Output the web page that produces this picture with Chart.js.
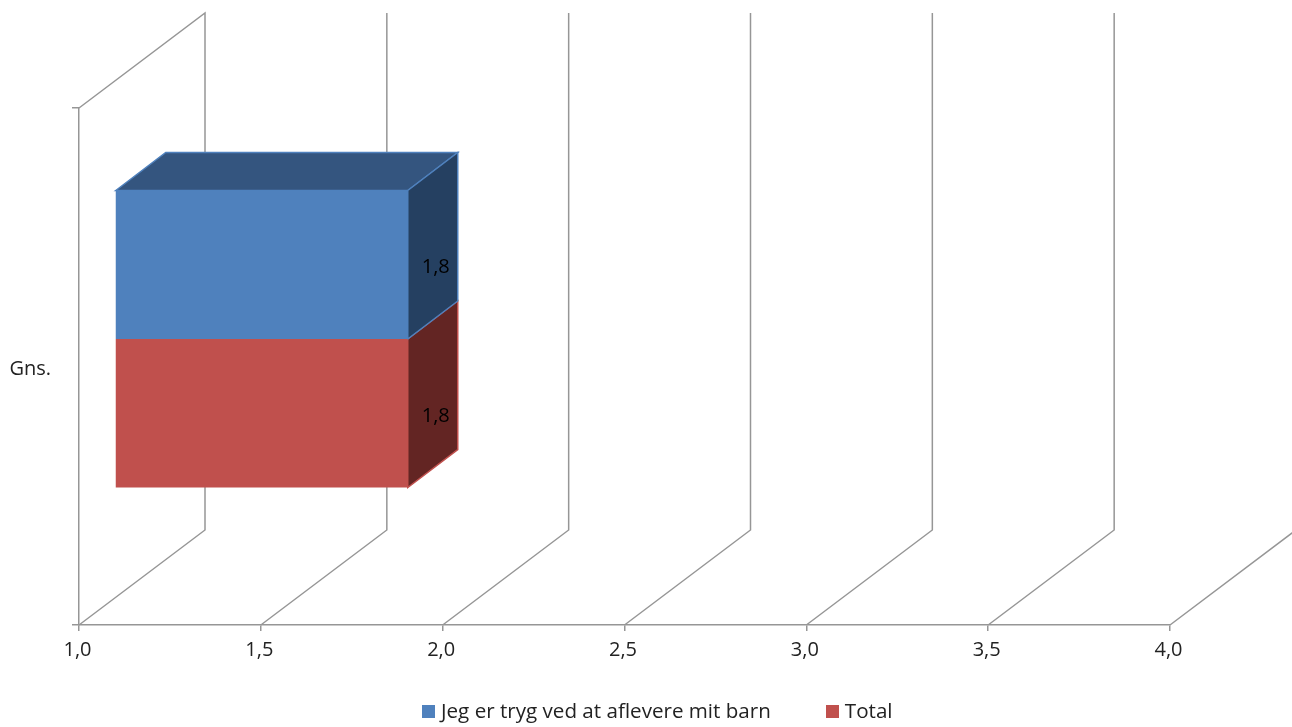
<!DOCTYPE html>
<html>
<head>
<meta charset="utf-8">
<style>
  html, body { margin: 0; padding: 0; background: #fff; overflow: hidden; }
  #wrap { position: relative; width: 1292px; height: 727px; }
  #legend { position: absolute; left: 422px; top: 696px; display: flex; font: 20.6px "Open Sans", sans-serif; color: #222; line-height: 28px; white-space: nowrap; }
  #legend .item { display: flex; align-items: center; margin-right: 55px; }
  #legend .box { width: 13px; height: 13px; margin-right: 6px; margin-top: 2px; }
</style>
<script src="https://cdn.jsdelivr.net/npm/chart.js@4/dist/chart.umd.min.js"></script>
</head>
<body>
<div id="wrap">
  <canvas id="chart" width="1292" height="727"></canvas>
  <div id="legend"></div>
</div>
<script>
const categories = ['Gns.'];
const seriesNames = ['Jeg er tryg ved at aflevere mit barn', 'Total'];
const trygValues = [1.805];
const totalValues = [1.805];
const frontColors = ['#4F81BD', '#C0504D'];
const topColors = ['#34557F', '#7F3533'];
const sideColors = ['#254061', '#632523'];
const GRID = '#969696';
const TEXT = '#222';

// fake 3D: bars sit inside the box, this is the projection of the depth axis
const WALL = { x: 126, y: -95 };
const GAP = { x: 36, y: -27.5 };
const DEPTH = { x: 50, y: -38 };

const fmt = v => Number(v).toFixed(1).replace('.', ',');

function poly(ctx, pts, fill, stroke) {
    ctx.beginPath();
    pts.forEach((p, i) => i ? ctx.lineTo(p[0], p[1]) : ctx.moveTo(p[0], p[1]));
    ctx.closePath();
    ctx.fillStyle = fill;
    ctx.fill();
    ctx.strokeStyle = stroke;
    ctx.lineWidth = 1.5;
    ctx.stroke();
}

const fake3d = {
    id: 'fake3d',
    beforeDatasetsDraw(chart) {
        const { ctx, chartArea, scales } = chart;
        ctx.save();
        ctx.strokeStyle = GRID;
        ctx.lineWidth = 1.5;
        ctx.beginPath();
        scales.x.ticks.forEach((t, i) => {
            const px = scales.x.getPixelForTick(i);
            ctx.moveTo(px, chartArea.bottom);
            ctx.lineTo(px + WALL.x, chartArea.bottom + WALL.y);
            ctx.lineTo(px + WALL.x, chartArea.top + WALL.y);
            if (i === 0) ctx.lineTo(px, chartArea.top);
        });
        ctx.stroke();

        // red first, so the blue edge ends up on top of it
        for (let d = chart.data.datasets.length - 1; d >= 0; d--) {
            const bar = chart.getDatasetMeta(d).data[0];
            const top = bar.y - bar.height / 2 + GAP.y;
            const bot = bar.y + bar.height / 2 + GAP.y;
            const l = bar.base + GAP.x;
            const r = bar.x + GAP.x;
            // only the upper bar shows its top face
            if (d === 0) poly(ctx, [[l, top], [l + DEPTH.x, top + DEPTH.y], [r + DEPTH.x, top + DEPTH.y], [r, top]], topColors[d], frontColors[d]);
            poly(ctx, [[r, top], [r + DEPTH.x, top + DEPTH.y], [r + DEPTH.x, bot + DEPTH.y], [r, bot]], sideColors[d], frontColors[d]);
        }
        ctx.restore();
        ctx.save();
        ctx.translate(GAP.x, GAP.y);
    },
    afterDatasetsDraw(chart) {
        const { ctx } = chart;
        ctx.restore();
        ctx.save();
        ctx.font = '20px "Open Sans", sans-serif';
        ctx.fillStyle = '#000';
        ctx.textAlign = 'center';
        ctx.textBaseline = 'middle';
        chart.data.datasets.forEach((ds, d) => {
            const bar = chart.getDatasetMeta(d).data[0];
            ctx.fillText(fmt(ds.data[0]), bar.x + GAP.x + 28, bar.y + GAP.y + 3);
        });
        ctx.restore();
    }
};

new Chart(document.getElementById('chart'), {
    type: 'bar',
    data: {
        labels: categories,
        datasets: [
            { label: seriesNames[0], data: trygValues, backgroundColor: frontColors[0] },
            { label: seriesNames[1], data: totalValues, backgroundColor: frontColors[1] }
        ]
    },
    options: {
        indexAxis: 'y',
        responsive: false,
        animation: false,
        layout: { padding: { top: 108, right: 122, bottom: 0, left: 0 } },
        datasets: { bar: { categoryPercentage: 0.5745, barPercentage: 1, base: 1 } },
        plugins: { legend: { display: false }, tooltip: { enabled: false } },
        scales: {
            x: {
                min: 1,
                max: 4,
                afterFit: s => { s.height = 102; },
                border: { color: GRID, width: 1.5 },
                grid: { drawOnChartArea: false, color: GRID, lineWidth: 1.5, tickLength: 6 },
                ticks: {
                    stepSize: 0.5,
                    callback: fmt,
                    color: TEXT,
                    padding: 7,
                    labelOffset: -1.5,
                    maxRotation: 0,
                    font: { family: 'Open Sans', size: 20 }
                }
            },
            y: {
                afterFit: s => { s.width = 79; },
                border: { color: GRID, width: 1.5 },
                grid: { drawOnChartArea: false, color: GRID, lineWidth: 1.5, tickLength: 7 },
                ticks: {
                    color: TEXT,
                    padding: 21,
                    labelOffset: 2.5,
                    font: { family: 'Open Sans', size: 20 }
                }
            }
        }
    },
    plugins: [fake3d]
});

document.getElementById('legend').innerHTML = seriesNames.map((name, i) =>
    `<div class="item"><span class="box" style="background:${frontColors[i]}"></span>${name}</div>`
).join('');
</script>
</body>
</html>
